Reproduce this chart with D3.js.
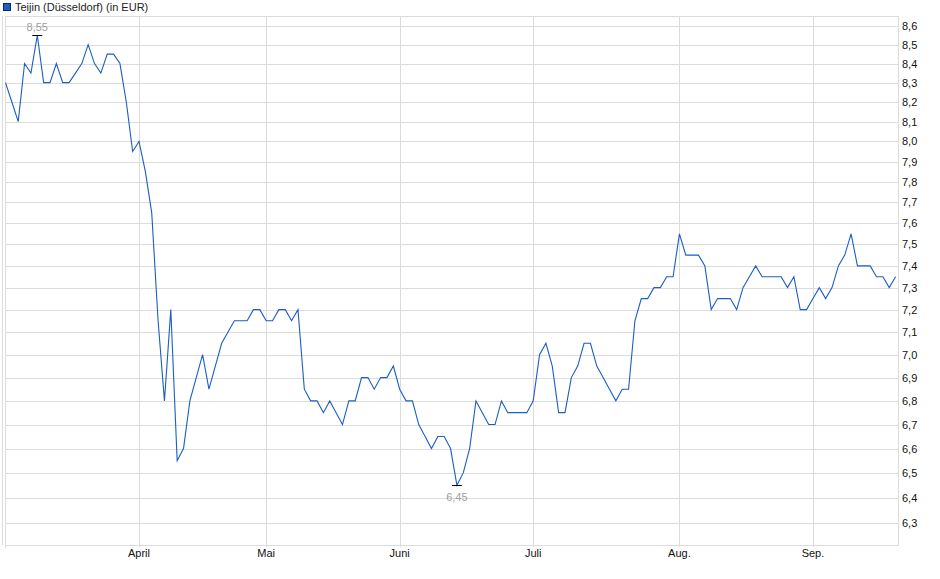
<!DOCTYPE html>
<html>
<head>
<meta charset="utf-8">
<script src="https://cdn.jsdelivr.net/npm/d3@7"></script>
<style>
  body { margin: 0; background: #fff; }
  svg { display: block; font-family: "Liberation Sans", Arial, sans-serif; }
</style>
</head>
<body>
<div class="chart"></div>
<script>
// daily closes, one per trading day
const prices = [
    8.3, 8.2, 8.1, 8.4, 8.35, 8.55, 8.3, 8.3, 8.4, 8.3,
    8.3, 8.35, 8.4, 8.5, 8.4, 8.35, 8.45, 8.45, 8.4, 8.2,
    7.95, 8.0, 7.85, 7.65, 7.15, 6.8, 7.2, 6.55, 6.6, 6.8,
    6.9, 7.0, 6.85, 6.95, 7.05, 7.1, 7.15, 7.15, 7.15, 7.2,
    7.2, 7.15, 7.15, 7.2, 7.2, 7.15, 7.2, 6.85, 6.8, 6.8,
    6.75, 6.8, 6.75, 6.7, 6.8, 6.8, 6.9, 6.9, 6.85, 6.9,
    6.9, 6.95, 6.85, 6.8, 6.8, 6.7, 6.65, 6.6, 6.65, 6.65,
    6.6, 6.45, 6.5, 6.6, 6.8, 6.75, 6.7, 6.7, 6.8, 6.75,
    6.75, 6.75, 6.75, 6.8, 7.0, 7.05, 6.95, 6.75, 6.75, 6.9,
    6.95, 7.05, 7.05, 6.95, 6.9, 6.85, 6.8, 6.85, 6.85, 7.15,
    7.25, 7.25, 7.3, 7.3, 7.35, 7.35, 7.55, 7.45, 7.45, 7.45,
    7.4, 7.2, 7.25, 7.25, 7.25, 7.2, 7.3, 7.35, 7.4, 7.35,
    7.35, 7.35, 7.35, 7.3, 7.35, 7.2, 7.2, 7.25, 7.3, 7.25,
    7.3, 7.4, 7.45, 7.55, 7.4, 7.4, 7.4, 7.35, 7.35, 7.3,
    7.35
];
const monthLabels = ["April", "Mai", "Juni", "Juli", "Aug.", "Sep."];
const monthIndex = [21, 41, 62, 83, 106, 127];
const yTicks = [6.3, 6.4, 6.5, 6.6, 6.7, 6.8, 6.9, 7.0, 7.1, 7.2, 7.3, 7.4,
    7.5, 7.6, 7.7, 7.8, 7.9, 8.0, 8.1, 8.2, 8.3, 8.4, 8.5, 8.6];

const width = 940, height = 579;
const pLeft = 5.5, pRight = 898, pTop = 16, pBottom = 545;

const svg = d3.select(".chart").append("svg")
    .attr("width", width)
    .attr("height", height);

const x = d3.scaleLinear().domain([0, prices.length - 1]).range([pLeft, 895.6]);
const y = d3.scaleLog().domain([6.213, 8.654]).range([pBottom, pTop]);
const fmt = function (d) { return d3.format(".1f")(d).replace(".", ","); };

// horizontal grid + right labels
svg.append("g")
    .selectAll("line")
    .data(yTicks)
    .enter().append("line")
    .attr("x1", pLeft).attr("x2", pRight)
    .attr("y1", function (d) { return Math.round(y(d)) + 0.5; })
    .attr("y2", function (d) { return Math.round(y(d)) + 0.5; })
    .attr("stroke", "#dcdcdc");

svg.append("g")
    .selectAll("text")
    .data(yTicks)
    .enter().append("text")
    .attr("x", pRight + 4)
    .attr("y", function (d) { return y(d) + 4; })
    .attr("font-size", "11px")
    .attr("fill", "#111")
    .text(fmt);

// month grid + labels
svg.append("g")
    .selectAll("line")
    .data(monthIndex)
    .enter().append("line")
    .attr("x1", function (d) { return Math.round(x(d)) + 0.5; })
    .attr("x2", function (d) { return Math.round(x(d)) + 0.5; })
    .attr("y1", pTop).attr("y2", pBottom + 2)
    .attr("stroke", "#dcdcdc");

svg.append("g")
    .selectAll("text")
    .data(monthIndex)
    .enter().append("text")
    .attr("x", function (d) { return x(d); })
    .attr("y", pBottom + 12)
    .attr("text-anchor", "middle")
    .attr("font-size", "11px")
    .attr("fill", "#111")
    .text(function (d, i) { return monthLabels[i]; });

// frame
svg.append("rect")
    .attr("x", pLeft).attr("y", pTop + 0.5)
    .attr("width", pRight - pLeft + 0.5).attr("height", pBottom - pTop)
    .attr("fill", "none")
    .attr("stroke", "#dcdcdc");
svg.append("line")
    .attr("x1", 2.5).attr("x2", 2.5).attr("y1", pTop).attr("y2", pBottom)
    .attr("stroke", "#dcdcdc");
svg.append("line")
    .attr("x1", pLeft).attr("x2", pLeft).attr("y1", pBottom).attr("y2", pBottom + 3)
    .attr("stroke", "#dcdcdc");

// price line
const line = d3.line()
    .x(function (d, i) { return x(i); })
    .y(function (d) { return y(d); });

svg.append("path")
    .datum(prices)
    .attr("fill", "none")
    .attr("stroke", "#1b5ec4")
    .attr("stroke-width", 1.1)
    .attr("d", line);

// high / low marks
const hi = d3.maxIndex(prices), lo = d3.minIndex(prices);
[[hi, -1], [lo, 1]].forEach(function (m) {
    const px = x(m[0]), py = Math.round(y(prices[m[0]])) + 0.5;
    svg.append("line")
        .attr("x1", px - 5).attr("x2", px + 5)
        .attr("y1", py).attr("y2", py)
        .attr("stroke", "#000");
    svg.append("text")
        .attr("x", px)
        .attr("y", m[1] < 0 ? py - 5 : py + 15)
        .attr("text-anchor", "middle")
        .attr("font-size", "11px")
        .attr("fill", "#a0a0a0")
        .text(d3.format(".2f")(prices[m[0]]).replace(".", ","));
});

// legend
svg.append("rect")
    .attr("x", 3.5).attr("y", 3.5)
    .attr("width", 7).attr("height", 7)
    .attr("fill", "#1b5ec4")
    .attr("stroke", "#0a2a66");
svg.append("text")
    .attr("x", 15).attr("y", 11)
    .attr("font-size", "11px")
    .attr("fill", "#222")
    .text("Teijin (Düsseldorf) (in EUR)");
</script>
</body>
</html>
